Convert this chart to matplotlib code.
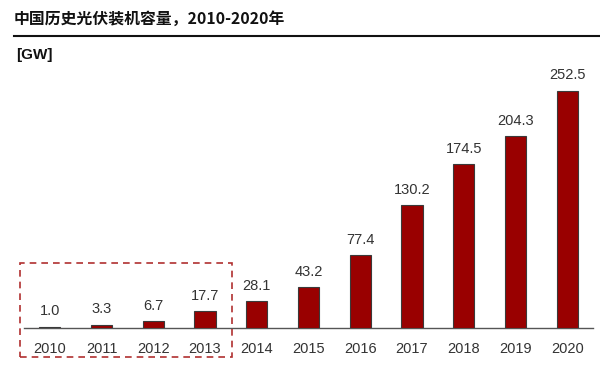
import matplotlib
matplotlib.use("Agg")
import matplotlib.pyplot as plt
from matplotlib.patches import Rectangle
from matplotlib.lines import Line2D

years = ["2010", "2011", "2012", "2013", "2014", "2015", "2016", "2017", "2018", "2019", "2020"]
capacity = [1.0, 3.3, 6.7, 17.7, 28.1, 43.2, 77.4, 130.2, 174.5, 204.3, 252.5]
title = "中国历史光伏装机容量，2010-2020年"
unit = "[GW]"

W, H = 600, 365
fig = plt.figure(figsize=(W / 100, H / 100), dpi=100)

ax_left, ax_right = 24 / W, 593 / W
ax_bottom = (H - 327.7) / H
ymax = 270
px_per_unit = (327.7 - 90.7) / 252.5
ax_height = ymax * px_per_unit / H
ax = fig.add_axes([ax_left, ax_bottom, ax_right - ax_left, ax_height])

x = list(range(len(years)))
ax.bar(x, capacity, width=0.41, color="#990000", edgecolor="#3a3a3a", linewidth=0.8, zorder=3)
ax.set_xlim(-0.5, len(years) - 0.5)
ax.set_ylim(0, ymax)

for xi, v in zip(x, capacity):
    ax.annotate(f"{v:.1f}", (xi, v), xytext=(0, 11), textcoords="offset points",
                ha="center", va="center", fontsize=10.5, color="#333333",
                family="Liberation Sans")

ax.set_xticks(x)
ax.set_xticklabels(years, family="Liberation Sans", fontsize=10.5, color="#333333")
ax.tick_params(axis="x", length=0, pad=10)
ax.set_yticks([])
for s in ["top", "right", "left"]:
    ax.spines[s].set_visible(False)
ax.spines["bottom"].set_color("#555555")
ax.spines["bottom"].set_linewidth(1.0)

# dashed highlight box around 2010-2013
x0 = (20 - 24) / 51.7 - 0.5
x1 = (232 - 24) / 51.7 - 0.5
y0 = -(357 - 327.7) / px_per_unit
y1 = (327.7 - 263) / px_per_unit
ax.add_patch(Rectangle((x0, y0), x1 - x0, y1 - y0, fill=False, edgecolor="#b03030",
                       linestyle=(0, (4, 3)), linewidth=1.2, clip_on=False, zorder=4))

# title and separator
fig.text(14 / W, 1 - 19 / H, title, ha="left", va="center", fontsize=11.4, fontweight="bold",
         family=["Noto Sans CJK SC", "DejaVu Sans"], color="#111111")
fig.add_artist(Line2D([14 / W, 1.0], [1 - 36 / H, 1 - 36 / H], color="#111111", linewidth=1.5,
                      transform=fig.transFigure))
fig.text(16 / W, 1 - 55 / H, unit, ha="left", va="center", fontsize=11, fontweight="bold",
         family=["Liberation Sans", "DejaVu Sans"], color="#111111")

fig.savefig("out.png", dpi=100)
